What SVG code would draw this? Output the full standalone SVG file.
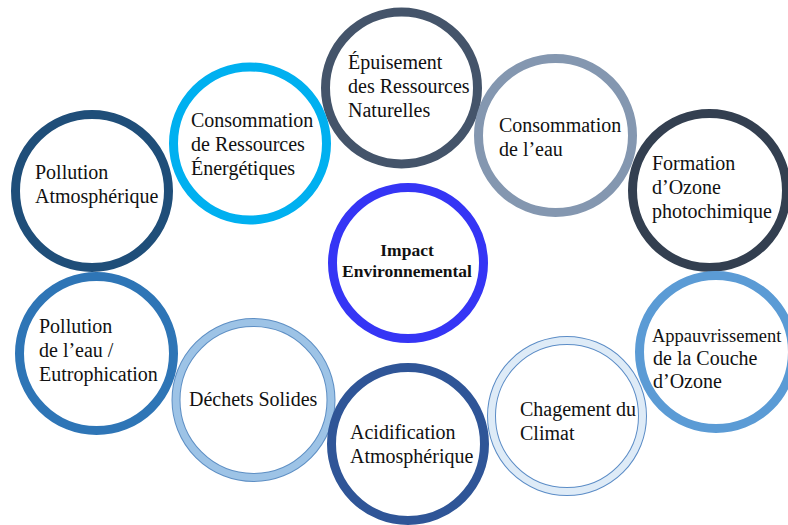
<svg xmlns="http://www.w3.org/2000/svg" width="788" height="525" viewBox="0 0 788 525">
<style>
.ring{fill:#ffffff;stroke-width:9}
.inner{fill:none;stroke-width:7}
.lbl{font-family:"Liberation Serif","Times New Roman",serif;font-size:20px;fill:#111111}
.ctr{font-family:"Liberation Serif","Times New Roman",serif;font-size:17.5px;font-weight:bold;fill:#111111;text-anchor:middle}
</style>
<rect width="788" height="525" fill="#ffffff"/>
<g id="connectors"/>
<g id="node-epuisement">
<circle class="ring" cx="401.5" cy="88" r="76" stroke="#44546A" stroke-width="10"/>
<text class="lbl" x="348" y="69">Épuisement</text>
<text class="lbl" x="348" y="93">des Ressources</text>
<text class="lbl" x="348" y="117">Naturelles</text>
</g>
<g id="node-conso-energie">
<circle class="ring" cx="250" cy="143.5" r="76.5" stroke="#00B0F0"/>
<text class="lbl" x="191" y="127">Consommation</text>
<text class="lbl" x="191" y="151">de Ressources</text>
<text class="lbl" x="191" y="175">Énergétiques</text>
</g>
<g id="node-conso-eau">
<circle class="ring" cx="555.5" cy="135.5" r="77" stroke="#8497B0"/>
<text class="lbl" x="499" y="132">Consommation</text>
<text class="lbl" x="499" y="156">de l’eau</text>
</g>
<g id="node-pollution-atm">
<circle class="ring" cx="92" cy="191" r="76.5" stroke="#1F4E79"/>
<text class="lbl" x="35" y="179">Pollution</text>
<text class="lbl" x="35" y="203">Atmosphérique</text>
</g>
<g id="node-formation-ozone">
<circle class="ring" cx="709.5" cy="190.5" r="77" stroke="#333F50"/>
<text class="lbl" x="652" y="170">Formation</text>
<text class="lbl" x="652" y="194">d’Ozone</text>
<text class="lbl" x="652" y="218">photochimique</text>
</g>
<g id="node-impact">
<circle class="ring" cx="408" cy="263" r="75.5" stroke="#3535F5"/>
<text class="ctr" x="407" y="256">Impact</text>
<text class="ctr" x="407" y="277">Environnemental</text>
</g>
<g id="node-pollution-eau">
<circle class="ring" cx="96.5" cy="353.5" r="77" stroke="#2E75B6"/>
<text class="lbl" x="39" y="333">Pollution</text>
<text class="lbl" x="39" y="357">de l’eau /</text>
<text class="lbl" x="39" y="381">Eutrophication</text>
</g>
<g id="node-chagement-climat">
<circle class="ring" cx="567" cy="416" r="75.5" stroke="#5B8CC6"/>
<circle class="inner" cx="567" cy="416" r="75.5" stroke="#DEEBF7"/>
<text class="lbl" x="520" y="416">Chagement du</text>
<text class="lbl" x="520" y="440">Climat</text>
</g>
<g id="node-appauvrissement">
<circle class="ring" cx="716" cy="352" r="76.5" stroke="#5B9BD5"/>
<text class="lbl" x="652" y="342" style="font-size:18.5px">Appauvrissement</text>
<text class="lbl" x="653" y="365">de la Couche</text>
<text class="lbl" x="653" y="388">d’Ozone</text>
</g>
<g id="node-dechets">
<circle class="ring" cx="253.5" cy="400" r="77.5" stroke="#5E8FC4"/>
<circle class="inner" cx="253.5" cy="400" r="77.5" stroke="#9DC3E6"/>
<text class="lbl" x="189" y="406">Déchets Solides</text>
</g>
<g id="node-acidification">
<circle class="ring" cx="408" cy="444" r="76.5" stroke="#2F5597" stroke-width="10"/>
<text class="lbl" x="350" y="439">Acidification</text>
<text class="lbl" x="350" y="463">Atmosphérique</text>
</g>
</svg>
